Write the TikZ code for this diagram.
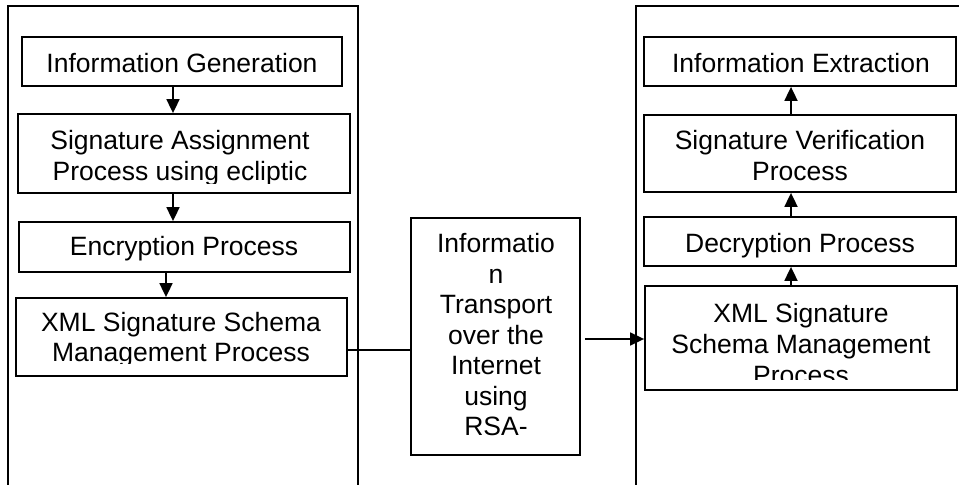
\documentclass[tikz,border=0pt]{standalone}
\usepackage{fontspec}
\setmainfont{Liberation Sans}
\usetikzlibrary{arrows.meta}
\tikzset{
  procbox/.style={draw, line width=1.8bp, rectangle, inner sep=0pt},
  txt/.style={inner sep=0pt, anchor=base, align=center, font=\fontsize{26.5bp}{30.5bp}\selectfont},
  flow/.style={line width=1.8bp, -{Triangle[length=14bp,width=13bp]}},
  plain/.style={line width=1.8bp},
  outer/.style={line width=1.8bp}
}
\begin{document}
\begin{tikzpicture}[x=1bp,y=-1bp]
\useasboundingbox (0,0) rectangle (959,485);
\clip (0,0) rectangle (959,485);
\fill[white] (0,0) rectangle (959,485);

% outer frames (cut off by the picture edge)
\draw[outer] (8,500) -- (8,6) -- (358,6) -- (358,500);
\draw[outer] (636,500) -- (636,6) -- (980,6);

% left column boxes
\node[procbox, minimum width=320bp, minimum height=49bp] (ig) at (182,61.5) {};
\node[procbox, minimum width=332bp, minimum height=79bp] (sa) at (184,153.5) {};
\node[procbox, minimum width=331bp, minimum height=50bp] (enc) at (184.5,247) {};
\node[procbox, minimum width=331bp, minimum height=78bp] (xl) at (181.5,337) {};

% middle box
\node[procbox, minimum width=169bp, minimum height=237bp] (mb) at (495.5,336.5) {};

% right column boxes
\node[procbox, minimum width=312bp, minimum height=49bp] (ie) at (800,61.5) {};
\node[procbox, minimum width=312bp, minimum height=77bp] (sv) at (800,153.5) {};
\node[procbox, minimum width=312bp, minimum height=49bp] (dp) at (800,241.5) {};
\node[procbox, minimum width=312bp, minimum height=104bp] (xr) at (801,338) {};

% texts (base anchor = baseline of the last line)
\node[txt] (igt) at (182,72.5) {Information Generation};
\begin{scope}
  \clip (0,0) rectangle (400,183.5);
  \node[txt] (sat) at (180,180.5) {Signature Assignment\\Process using ecliptic};
\end{scope}
\node[txt] (enct) at (184,256) {Encryption Process};
\begin{scope}
  \clip (0,0) rectangle (400,363.5);
  \node[txt] (xlt) at (181,362) {XML Signature Schema\\Management Process};
\end{scope}
\node[txt] (mbt) at (496,435.7) {Informatio\\n\\Transport\\over the\\Internet\\using\\RSA-};
\node[txt] (iet) at (801,72.5) {Information Extraction};
\node[txt] (svt) at (800,180.5) {Signature Verification\\Process};
\node[txt] (dpt) at (800,252.5) {Decryption Process};
\begin{scope}
  \clip (600,0) rectangle (959,379);
  \node[txt] (xrt) at (801,384) {XML Signature\\Schema Management\\Process};
\end{scope}

% connectors, left column (downwards)
\draw[flow] ([xshift=-9bp]ig.south) -- ([xshift=-11bp]sa.north);
\draw[flow] ([xshift=-11bp]sa.south) -- ([xshift=-11.5bp]enc.north);
\draw[flow] ([xshift=-18.5bp]enc.south) -- ([xshift=-15.5bp]xl.north);

% connectors, right column (upwards)
\draw[flow] ([xshift=-9bp]sv.north) -- ([xshift=-9bp]ie.south);
\draw[flow] ([xshift=-9bp]dp.north) -- ([xshift=-9bp]sv.south);
\draw[flow] ([xshift=-10bp]xr.north) -- ([xshift=-9bp]dp.south);

% transport links
\draw[plain] ([yshift=-13bp]xl.east) coordinate (l1) -- (l1 -| mb.west);
\draw[flow] ([xshift=4bp,yshift=-2.5bp]mb.east) coordinate (r1) -- (r1 -| xr.west);
\end{tikzpicture}
\end{document}
